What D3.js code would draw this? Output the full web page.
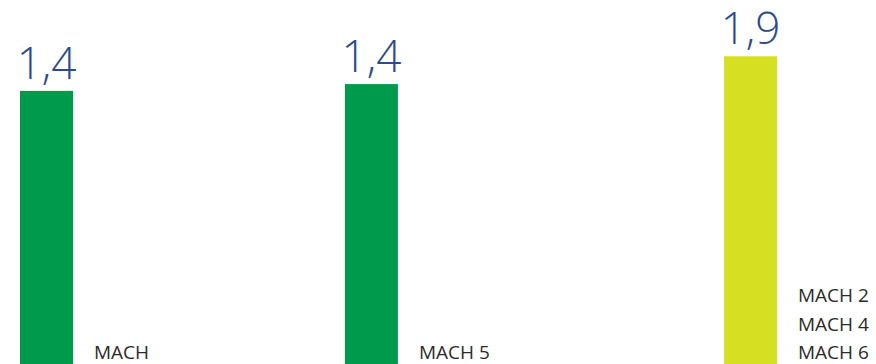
<!DOCTYPE html>
<html>
<head>
<meta charset="utf-8">
<script src="https://cdn.jsdelivr.net/npm/d3@7"></script>
<style>
  html, body { margin: 0; padding: 0; background: #ffffff; }
  svg { display: block; }
</style>
</head>
<body>
<svg id="chart" width="876" height="364"></svg>
<script>
// Bar values (shown with one decimal and a comma)
const values = [1.351, 1.449, 1.851];
// Category label lines per bar
const labels = [["MACH"], ["MACH 5"], ["MACH 2", "MACH 4", "MACH 6"]];
// Group of each bar (sets its colour)
const groups = ["a", "a", "b"];

// Layout: bars sit on a 14-slot grid; slot index of each bar
const slots = [0, 6, 13];

const W = 876, H = 364;
const svg = d3.select("#chart");

const x = d3.scaleLinear().domain([0, 13]).range([20, 724]);
const barW = 53;
const y = d3.scaleLinear().domain([-2.6, 2]).range([H, 46]);
const color = d3.scaleOrdinal().domain(["a", "b"]).range(["#009a4d", "#d7df23"]);
const fmt = v => d3.format(".1f")(v).replace(".", ",");

const data = values.map((v, i) => ({ v, label: labels[i], g: groups[i], slot: slots[i] }));

const g = svg.selectAll("g.bar").data(data).join("g").attr("class", "bar");

g.append("rect")
  .attr("x", d => x(d.slot))
  .attr("y", d => y(d.v))
  .attr("width", barW)
  .attr("height", d => H - y(d.v))
  .attr("fill", d => color(d.g));

g.append("text")
  .attr("x", d => x(d.slot) + barW / 2)
  .attr("y", d => y(d.v) - 12)
  .attr("text-anchor", "middle")
  .attr("font-family", "'Open Sans', sans-serif")
  .attr("font-weight", 300)
  .attr("font-size", 44)
  .attr("fill", "#2a4b8d")
  .text(d => fmt(d.v));

g.append("text")
  .attr("x", d => x(d.slot) + barW + 21)
  .attr("font-family", "'Open Sans', sans-serif")
  .attr("font-size", 19)
  .attr("fill", "#2b2b2b")
  .selectAll("tspan")
  .data(d => d.label.map((t, i, arr) => ({ t, i, n: arr.length })))
  .join("tspan")
  .attr("x", function () { return d3.select(this.parentNode).attr("x"); })
  .attr("y", d => 359 - (d.n - 1 - d.i) * 28.5)
  .text(d => d.t);
</script>
</body>
</html>
